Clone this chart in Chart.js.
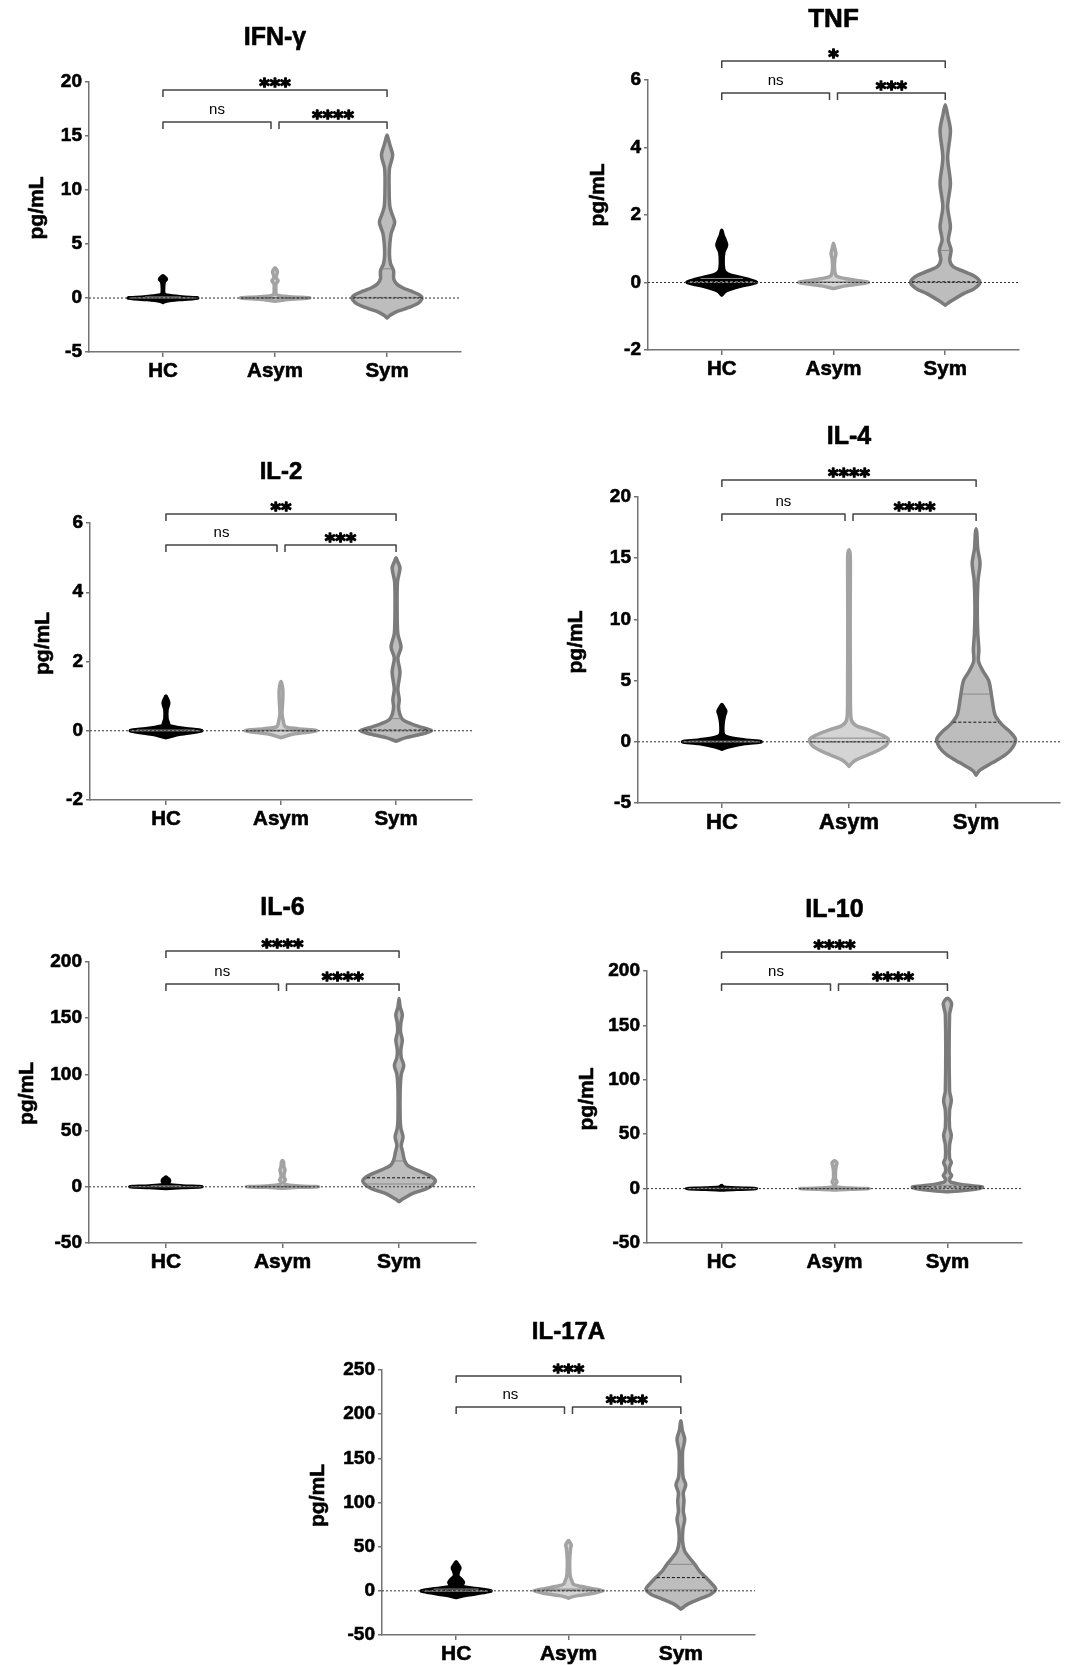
<!DOCTYPE html>
<html>
<head>
<meta charset="utf-8">
<script src="https://cdn.jsdelivr.net/npm/chart.js@4.4.1/dist/chart.umd.min.js"></script>
<style>
  body { margin: 0; background: #fff; width: 1068px; height: 1665px; position: relative; overflow: hidden; }
  canvas { position: absolute; }
</style>
</head>
<body>
<canvas id="cIFN"></canvas>
<canvas id="cTNF"></canvas>
<canvas id="cIL2"></canvas>
<canvas id="cIL4"></canvas>
<canvas id="cIL6"></canvas>
<canvas id="cIL10"></canvas>
<canvas id="cIL17"></canvas>
<script>
// ===============================
// DATA
// ===============================
const groups = ["HC", "Asym", "Sym"];
// significance: [HC-Asym, Asym-Sym, HC-Sym]

// violin profiles: [value, relative half-width]
// quartiles: [q1, median, q3] per group

// IFN-γ
const ifnTicks = [-5, 0, 5, 10, 15, 20];
const ifnSig = ["ns", "****", "***"];
const ifnHC = [[-0.4,0],[-0.3,0.08],[-0.15,0.45],[0,1],[0.1,0.55],[0.25,0.12],[0.4,0.03],[1.0,0.02],[1.5,0.04],[1.75,0.1],[1.95,0.05],[2.05,0]];
const ifnAsym = [[-0.3,0],[-0.15,0.35],[0,1],[0.12,0.45],[0.3,0.05],[0.8,0.025],[1.3,0.03],[1.6,0.09],[1.9,0.03],[2.4,0.07],[2.6,0.05],[2.8,0]];
const ifnSym = [[-1.85,0],[-1.6,0.09],[-1.3,0.25],[-1.0,0.52],[-0.55,0.86],[-0.2,0.98],[0.1,1],[0.35,0.9],[0.65,0.68],[0.95,0.45],[1.3,0.28],[1.8,0.19],[2.5,0.19],[3.2,0.1],[4,0.07],[5,0.08],[6,0.12],[7,0.22],[7.8,0.14],[8.5,0.08],[10,0.06],[12,0.07],[13.2,0.16],[14.2,0.08],[14.9,0.02],[15.1,0]];
const ifnQuart = [[0,0.02,0.1],[0,0,0.05],[0,0.05,2.7]];

// TNF
const tnfTicks = [-2, 0, 2, 4, 6];
const tnfSig = ["ns", "***", "*"];
const tnfHC = [[-0.37,0],[-0.25,0.12],[-0.1,0.58],[0,1],[0.08,0.8],[0.17,0.45],[0.25,0.18],[0.35,0.07],[0.6,0.04],[0.9,0.06],[1.1,0.14],[1.25,0.1],[1.4,0.04],[1.55,0]];
const tnfAsym = [[-0.18,0],[-0.1,0.33],[0,1],[0.06,0.68],[0.12,0.32],[0.2,0.08],[0.4,0.03],[0.7,0.04],[0.85,0.07],[1.0,0.04],[1.16,0]];
const tnfSym = [[-0.67,0],[-0.55,0.17],[-0.33,0.53],[-0.18,0.84],[0,1],[0.17,0.87],[0.32,0.55],[0.47,0.23],[0.66,0.13],[0.96,0.17],[1.26,0.09],[1.65,0.15],[2.25,0.07],[2.94,0.15],[3.7,0.07],[4.5,0.15],[5.0,0.06],[5.27,0]];
const tnfQuart = [[0,0.02,0.12],[0,0,0.02],[0,0.02,0.95]];

// IL-2
const il2Ticks = [-2, 0, 2, 4, 6];
const il2Sig = ["ns", "***", "**"];
const il2HC = [[-0.2,0],[-0.1,0.38],[0,1],[0.07,0.48],[0.15,0.09],[0.22,0.07],[0.35,0.03],[0.6,0.03],[0.8,0.08],[0.92,0.04],[1.0,0]];
const il2Asym = [[-0.2,0],[-0.1,0.33],[0,1],[0.06,0.48],[0.12,0.12],[0.3,0.06],[0.5,0.03],[0.9,0.05],[1.2,0.05],[1.42,0]];
const il2Sym = [[-0.3,0],[-0.2,0.28],[-0.08,0.78],[0,1],[0.08,0.78],[0.17,0.5],[0.32,0.19],[0.5,0.1],[0.7,0.07],[0.9,0.09],[1.2,0.05],[1.7,0.11],[2.1,0.05],[2.42,0.14],[2.8,0.05],[3.5,0.03],[4.3,0.04],[4.7,0.11],[4.9,0.04],[5.0,0]];
const il2Quart = [[0,0,0.02],[0,0,0.02],[0,0.02,0.35]];

// IL-4
const il4Ticks = [-5, 0, 5, 10, 15, 20];
const il4Sig = ["ns", "****", "****"];
const il4HC = [[-0.6,0],[-0.4,0.18],[-0.15,0.58],[0,1],[0.15,0.58],[0.35,0.18],[0.6,0.04],[1.5,0.03],[2.2,0.07],[2.5,0.1],[2.8,0.05],[3.05,0]];
const il4Asym = [[-2.0,0],[-1.75,0.07],[-1.5,0.17],[-1.1,0.46],[-0.65,0.77],[-0.25,0.95],[0.2,1],[0.6,0.8],[1.0,0.48],[1.3,0.19],[1.7,0.07],[2.5,0.04],[5,0.035],[10,0.03],[14,0.035],[15.3,0.03],[15.7,0]];
const il4Sym = [[-2.72,0],[-2.4,0.07],[-2.2,0.15],[-1.7,0.42],[-1.05,0.75],[-0.5,0.92],[0.2,1],[0.85,0.85],[1.42,0.65],[2.2,0.48],[3.6,0.4],[5.0,0.32],[5.8,0.17],[6.6,0.06],[7.5,0.07],[9,0.04],[11,0.03],[13.2,0.05],[14.6,0.1],[15.8,0.04],[17,0.02],[17.4,0]];
const il4Quart = [[0,0,0.05],[0,0,0.3],[0,1.6,3.9]];

// IL-6
const il6Ticks = [-50, 0, 50, 100, 150, 200];
const il6Sig = ["ns", "****", "****"];
const il6HC = [[-1.5,0],[-0.7,0.45],[0,1],[0.8,0.45],[1.8,0.09],[3,0.07],[5,0.1],[6.5,0.09],[8,0.03],[8.8,0]];
const il6Asym = [[-1.2,0],[-0.5,0.45],[0,1],[0.8,0.45],[2,0.07],[4,0.04],[6,0.08],[9,0.04],[12,0.05],[15,0.07],[18,0.04],[22,0.03],[23.5,0]];
const il6Sym = [[-13.3,0],[-11.5,0.07],[-10.4,0.13],[-5.9,0.38],[-1.5,0.78],[2.4,0.95],[6,1],[10.4,0.82],[14.8,0.5],[19.3,0.23],[23.7,0.15],[31,0.1],[37,0.06],[44.5,0.11],[52,0.05],[61,0.03],[85,0.03],[100,0.06],[108,0.13],[115,0.06],[122,0.05],[130.5,0.09],[138,0.04],[146,0.05],[153,0.09],[160,0.03],[167.5,0]];
const il6Quart = [[0,0.3,0.8],[0,0.2,0.6],[2.5,8,23]];

// IL-10
const il10Ticks = [-50, 0, 50, 100, 150, 200];
const il10Sig = ["ns", "****", "****"];
const il10HC = [[-1.2,0],[-0.5,0.45],[0,1],[0.5,0.45],[1.2,0.07],[2,0.03],[2.8,0]];
const il10Asym = [[-1.2,0],[-0.5,0.45],[0,1],[0.5,0.45],[1.5,0.05],[4,0.03],[6,0.07],[9,0.03],[16,0.03],[21,0.05],[23.5,0.07],[25.5,0]];
const il10Sym = [[-3,0],[-2,0.38],[0,0.9],[1.5,1],[3,0.58],[4.6,0.27],[6,0.09],[9,0.06],[12,0.12],[15,0.06],[20,0.06],[24,0.11],[28,0.06],[40,0.06],[49,0.11],[56,0.06],[72,0.06],[81,0.11],[90,0.06],[160,0.06],[170,0.12],[174,0.05],[175,0]];
const il10Quart = [[0,0,0.3],[0,0,0.3],[0.5,1.5,3]];

// IL-17A
const il17Ticks = [-50, 0, 50, 100, 150, 200, 250];
const il17Sig = ["ns", "****", "***"];
const il17HC = [[-7.5,0],[-5,0.28],[-2,0.78],[0,1],[2,0.68],[4,0.28],[6,0.17],[9.5,0.21],[13,0.15],[17,0.05],[22,0.07],[26,0.11],[30,0.05],[33,0]];
const il17Asym = [[-8.3,0],[-6,0.18],[-3,0.68],[0,1],[2.5,0.68],[5.7,0.27],[8,0.13],[11,0.1],[15,0.06],[20,0.04],[35,0.035],[48,0.06],[52,0.08],[55,0.04],[57,0]];
const il17Sym = [[-20.8,0],[-18,0.09],[-15,0.2],[-9.4,0.53],[-3.8,0.86],[2,1],[7.5,0.9],[15,0.72],[22.6,0.53],[30,0.4],[37.7,0.24],[45,0.11],[56,0.05],[70,0.06],[81,0.11],[90,0.07],[102,0.09],[111,0.07],[120,0.14],[128,0.07],[136,0.05],[158,0.05],[171.7,0.11],[182,0.04],[190,0.015],[192.5,0]];
const il17Quart = [[-0.5,0.5,2],[0,0.5,2],[1,15,30]];

// ===============================
// LAYOUT (pixel positions of the axes on the page)
// ===============================
const FONT = "'Liberation Sans', Arial, Helvetica, sans-serif";
const STAR_FONT = "'DejaVu Sans', 'Liberation Sans', sans-serif";
const M_LEFT = 80, M_TOP = 80, M_RIGHT = 10, M_BOTTOM = 40;
const HALF_W = 0.31;           // max half width of a violin, in category units
const X_MIN = 0.34, X_MAX = 3.66;

const panels = [
  { id: "cIFN",  title: "IFN-γ",  ticks: ifnTicks,  sig: ifnSig,  v: [ifnHC, ifnAsym, ifnSym],    q: ifnQuart,
    axL: 89,  axR: 461,  axT: 82,   axB: 352,  titleDy: 44, brTop: 8,   brLow: 40, ylabDx: 52, ylabDy: -9,  titleSize: 25, catSize: 20.5 },
  { id: "cTNF",  title: "TNF",    ticks: tnfTicks,  sig: tnfSig,  v: [tnfHC, tnfAsym, tnfSym],    q: tnfQuart,
    axL: 648, axR: 1019, axT: 80,   axB: 350,  titleDy: 60, brTop: -19, brLow: 13, ylabDx: 50, ylabDy: -20, titleSize: 26, catSize: 20.5 },
  { id: "cIL2",  title: "IL-2",   ticks: il2Ticks,  sig: il2Sig,  v: [il2HC, il2Asym, il2Sym],    q: il2Quart,
    axL: 90,  axR: 472,  axT: 523,  axB: 800,  titleDy: 51, brTop: -9,  brLow: 22, ylabDx: 47, ylabDy: -18, titleSize: 24, catSize: 20.5 },
  { id: "cIL4",  title: "IL-4",   ticks: il4Ticks,  sig: il4Sig,  v: [il4HC, il4Asym, il4Sym],    q: il4Quart,
    axL: 638, axR: 1060, axT: 497,  axB: 803,  titleDy: 60, brTop: -17, brLow: 17, ylabDx: 62, ylabDy: -8,  titleSize: 25, catSize: 22 },
  { id: "cIL6",  title: "IL-6",   ticks: il6Ticks,  sig: il6Sig,  v: [il6HC, il6Asym, il6Sym],    q: il6Quart,
    axL: 89,  axR: 476,  axT: 962,  axB: 1243, titleDy: 54, brTop: -11, brLow: 22, ylabDx: 62, ylabDy: -9,  titleSize: 25, catSize: 21 },
  { id: "cIL10", title: "IL-10",  ticks: il10Ticks, sig: il10Sig, v: [il10HC, il10Asym, il10Sym], q: il10Quart,
    axL: 647, axR: 1022, axT: 971,  axB: 1243, titleDy: 61, brTop: -19, brLow: 13, ylabDx: 60, ylabDy: -8,  titleSize: 25, catSize: 20.5 },
  { id: "cIL17", title: "IL-17A", ticks: il17Ticks, sig: il17Sig, v: [il17HC, il17Asym, il17Sym], q: il17Quart,
    axL: 382, axR: 755,  axT: 1370, axB: 1635, titleDy: 38, brTop: 6,   brLow: 37, ylabDx: 64, ylabDy: -7,  titleSize: 24, catSize: 21 }
];

// group styles
const violinStyle = [
  { fill: "#000000", line: "#000000", quart: "#8a8a8a", median: "#9a9a9a" },
  { fill: "#d4d4d4", line: "#a3a3a3", quart: "#8a8a8a", median: "#111111" },
  { fill: "#bdbdbd", line: "#7b7b7b", quart: "#8a8a8a", median: "#111111" }
];
const AXIS_COLOR = "#737373";

// ===============================
// HELPERS
// ===============================
function outline(prof, c) {
  const right = prof.map(([y, w]) => ({ x: c + HALF_W * w, y }));
  const left = prof.slice().reverse().map(([y, w]) => ({ x: c - HALF_W * w, y }));
  return right.concat(left.slice(1));
}

function widthAt(prof, y) {
  for (let i = 0; i < prof.length - 1; i++) {
    const [y0, w0] = prof[i], [y1, w1] = prof[i + 1];
    if (y >= y0 && y <= y1) {
      const t = y1 === y0 ? 0 : (y - y0) / (y1 - y0);
      return w0 + (w1 - w0) * t;
    }
  }
  return 0;
}

function buildDatasets(p) {
  const ds = [];
  // zero line
  ds.push({
    data: [{ x: X_MIN, y: 0 }, { x: X_MAX, y: 0 }],
    borderColor: "#333", borderWidth: 1, borderDash: [2, 2],
    pointRadius: 0, fill: false, tension: 0, order: 0
  });
  p.v.forEach((prof, i) => {
    const c = i + 1;
    const st = violinStyle[i];
    p.q[i].forEach((qv, k) => {
      const hw = Math.max(HALF_W * widthAt(prof, qv) - 0.01, 0);
      ds.push({
        data: [{ x: c - hw, y: qv }, { x: c + hw, y: qv }],
        borderColor: k === 1 ? st.median : st.quart,
        borderWidth: 1, borderDash: k === 1 ? [3, 2] : [],
        pointRadius: 0, fill: false, tension: 0, order: 1
      });
    });
    ds.push({
      data: outline(prof, c),
      borderColor: st.line, backgroundColor: st.fill,
      borderWidth: 3.5, borderJoinStyle: "round", borderCapStyle: "round",
      fill: "shape", pointRadius: 0, tension: 0.3, order: 2
    });
  });
  return ds;
}

function heavyText(ctx, txt, x, y, stroke) {
  ctx.fillText(txt, x, y);
  if (stroke) {
    ctx.lineWidth = stroke;
    ctx.strokeStyle = ctx.fillStyle;
    ctx.lineJoin = "round";
    ctx.strokeText(txt, x, y);
  }
}

function drawBracket(ctx, x1, x2, y, label) {
  ctx.strokeStyle = "#444";
  ctx.lineWidth = 1.5;
  ctx.beginPath();
  ctx.moveTo(x1, y + 7);
  ctx.lineTo(x1, y);
  ctx.lineTo(x2, y);
  ctx.lineTo(x2, y + 7);
  ctx.stroke();
  ctx.fillStyle = "#000";
  ctx.textAlign = "center";
  ctx.textBaseline = "alphabetic";
  if (label === "ns") {
    ctx.font = `15px ${FONT}`;
    ctx.fillText(label, (x1 + x2) / 2, y - 8);
  } else {
    ctx.font = `bold 20px ${STAR_FONT}`;
    heavyText(ctx, label, (x1 + x2) / 2, y + 2, 1.3);
  }
}

const decorPlugin = {
  id: "decor",
  afterDraw(chart, args, opts) {
    const p = opts.panel;
    const ctx = chart.ctx;
    const a = chart.chartArea;
    const xs = chart.scales.x;
    const c = [1, 2, 3].map(v => xs.getPixelForValue(v));
    ctx.save();
    // title
    ctx.fillStyle = "#000";
    ctx.textAlign = "center";
    ctx.textBaseline = "middle";
    ctx.font = `bold ${p.titleSize}px ${FONT}`;
    heavyText(ctx, p.title, c[1], a.top - p.titleDy, 0.6);
    // y axis title
    ctx.save();
    ctx.translate(a.left - p.ylabDx, (a.top + a.bottom) / 2 + p.ylabDy);
    ctx.rotate(-Math.PI / 2);
    ctx.font = `bold 21px ${FONT}`;
    heavyText(ctx, "pg/mL", 0, 0, 0.6);
    ctx.restore();
    // brackets
    drawBracket(ctx, c[0], c[1] - 4, a.top + p.brLow, p.sig[0]);
    drawBracket(ctx, c[1] + 4, c[2], a.top + p.brLow, p.sig[1]);
    drawBracket(ctx, c[0], c[2], a.top + p.brTop, p.sig[2]);
    ctx.restore();
  }
};

// ===============================
// CHARTS
// ===============================
Chart.defaults.font.family = FONT;

panels.forEach(p => {
  const cv = document.getElementById(p.id);
  const left = p.axL - M_LEFT;
  const top = p.axT - M_TOP;
  cv.width = p.axR - left + M_RIGHT;
  cv.height = p.axB - top + M_BOTTOM;
  cv.style.left = left + "px";
  cv.style.top = top + "px";

  new Chart(cv, {
    type: "line",
    data: { datasets: buildDatasets(p) },
    options: {
      responsive: false,
      animation: false,
      events: [],
      layout: { autoPadding: false, padding: { top: M_TOP, right: M_RIGHT, left: 0, bottom: 0 } },
      plugins: {
        legend: { display: false },
        tooltip: { enabled: false },
        decor: { panel: p }
      },
      scales: {
        x: {
          type: "linear",
          min: X_MIN, max: X_MAX,
          afterBuildTicks: s => { s.ticks = [1, 2, 3].map(v => ({ value: v })); },
          afterFit: s => { s.height = M_BOTTOM; },
          ticks: {
            callback: v => groups[v - 1],
            color: "#000",
            font: { size: p.catSize, weight: "bold" },
            textStrokeColor: "#000",
            textStrokeWidth: 0.6,
            padding: 2,
            maxRotation: 0
          },
          grid: { display: true, drawOnChartArea: false, drawTicks: true, tickLength: 5, color: AXIS_COLOR, lineWidth: 1.5 },
          border: { display: true, color: AXIS_COLOR, width: 1.5 }
        },
        y: {
          type: "linear",
          min: p.ticks[0], max: p.ticks[p.ticks.length - 1],
          afterBuildTicks: s => { s.ticks = p.ticks.map(v => ({ value: v })); },
          afterFit: s => { s.width = M_LEFT; },
          ticks: {
            callback: v => String(v),
            color: "#000",
            font: { size: 19, weight: "bold" },
            textStrokeColor: "#000",
            textStrokeWidth: 0.6,
            padding: 3
          },
          grid: { display: true, drawOnChartArea: false, drawTicks: true, tickLength: 4, color: AXIS_COLOR, lineWidth: 1.5 },
          border: { display: true, color: AXIS_COLOR, width: 1.5 }
        }
      }
    },
    plugins: [decorPlugin]
  });
});
</script>
</body>
</html>
